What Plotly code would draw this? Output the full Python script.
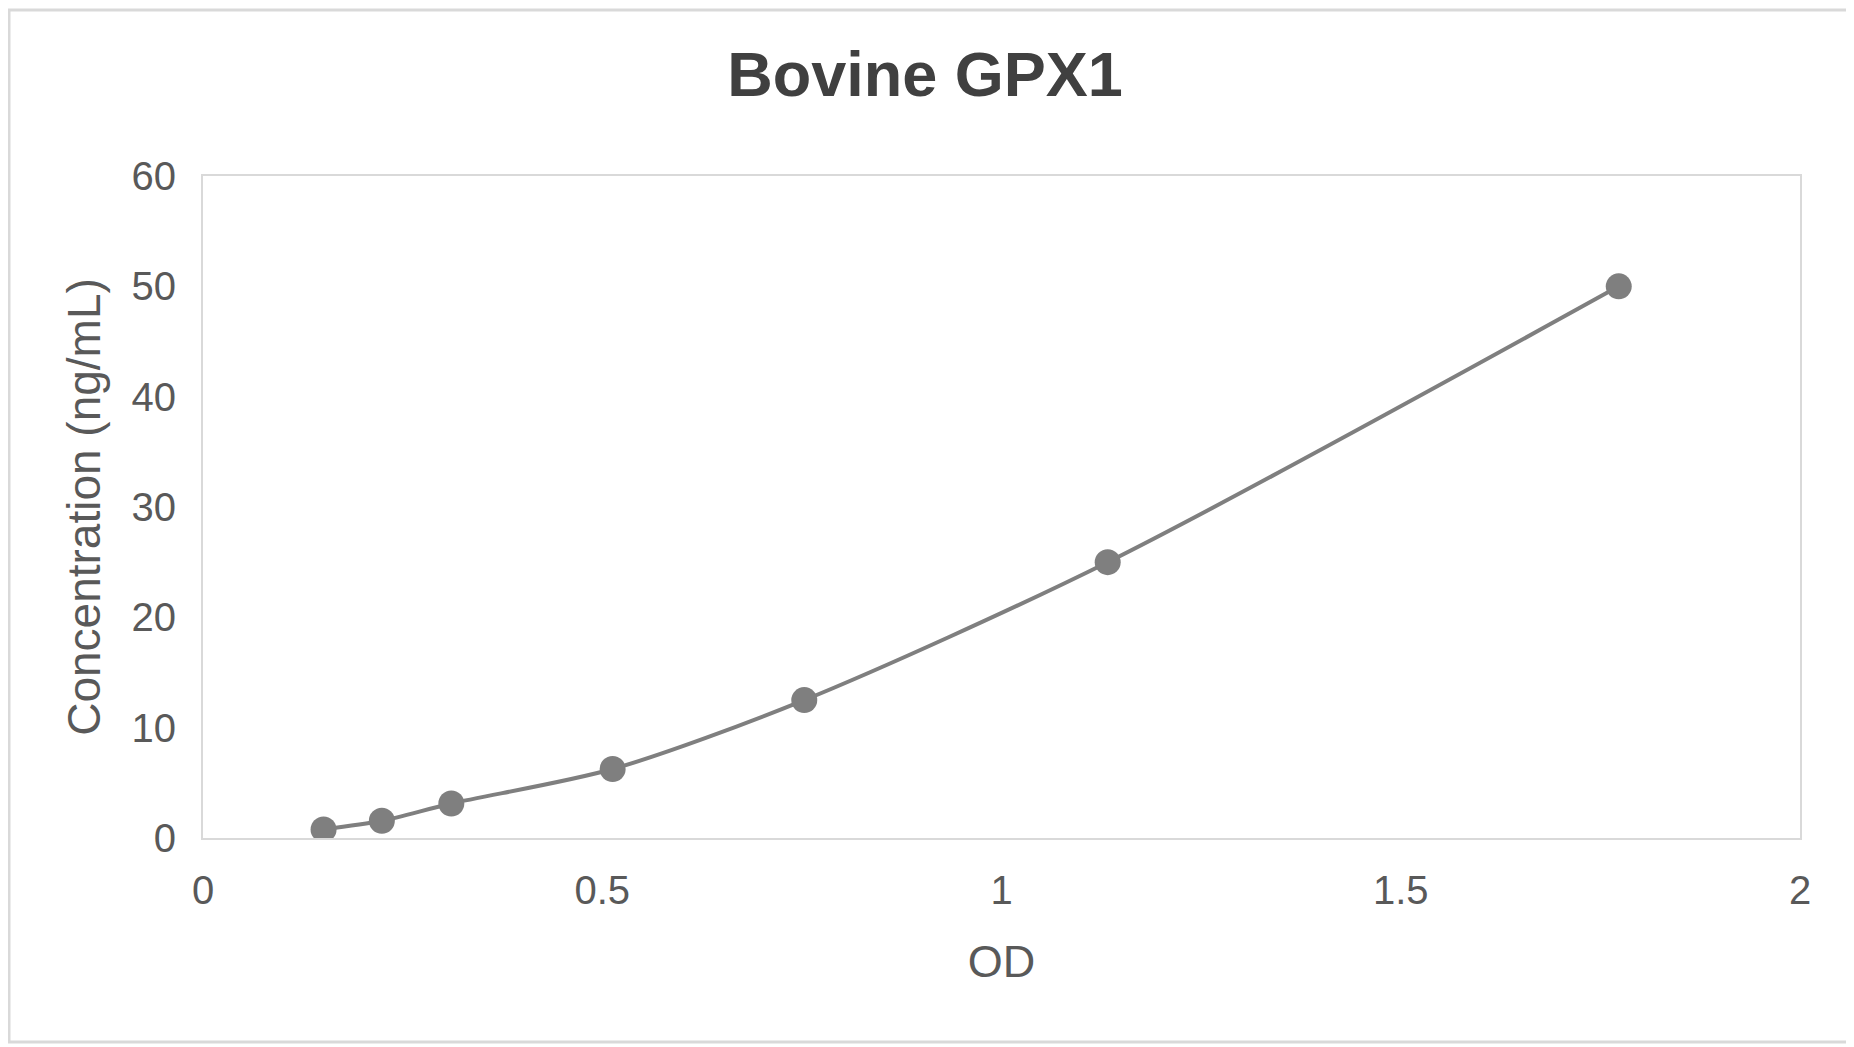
import plotly.graph_objects as go

# standard curve readings
od = [0.151, 0.224, 0.311, 0.513, 0.753, 1.133, 1.773]
concentration = [0.78, 1.56, 3.125, 6.25, 12.5, 25, 50]

x_ticks = [0, 0.5, 1, 1.5, 2]
x_tick_text = ["0", "0.5", "1", "1.5", "2"]
y_ticks = [0, 10, 20, 30, 40, 50, 60]

text_color = "#595959"
point_color = "#7f7f7f"
frame_color = "#d9d9d9"
font_name = "Liberation Sans, Arial, sans-serif"

curve = go.Scatter(
    x=od, y=concentration,
    mode="lines+markers",
    line=dict(color=point_color, width=4, shape="spline", smoothing=0.8),
    marker=dict(color=point_color, size=26),
    showlegend=False,
)

fig = go.Figure(data=[curve])

# page has an 8px body margin, so the figure is a bit smaller than the window
fig.update_layout(
    width=1846, height=1039,
    paper_bgcolor="white", plot_bgcolor="white",
    margin=dict(l=195, r=54, t=168, b=209),
    font=dict(family=font_name, color=text_color, size=40),
    title=dict(
        text="<b>Bovine GPX1</b>",
        x=917 / 1846, xanchor="center", y=1 - 66 / 1039, yanchor="middle",
        font=dict(size=63, color="#404040"),
    ),
    # outer chart border
    shapes=[dict(type="rect", xref="paper", yref="paper",
                 x0=-194 / 1597, x1=1 + 48 / 1597, y0=-204 / 662, y1=1 + 166 / 662,
                 line=dict(color=frame_color, width=3))],
)

fig.update_xaxes(
    range=[0, 2], tickvals=x_ticks, ticktext=x_tick_text,
    showgrid=False, zeroline=False,
    showline=True, mirror=True, linecolor=frame_color, linewidth=2,
    ticks="", ticklabelstandoff=16,
    title=dict(text="OD", font=dict(size=45), standoff=34),
)
fig.update_yaxes(
    range=[0, 60], tickvals=y_ticks,
    showgrid=False, zeroline=False,
    showline=True, mirror=True, linecolor=frame_color, linewidth=2,
    ticks="", ticklabelstandoff=17,
    title=dict(text="Concentration (ng/mL)", font=dict(size=46), standoff=16),
)

fig.write_html("out.html")
